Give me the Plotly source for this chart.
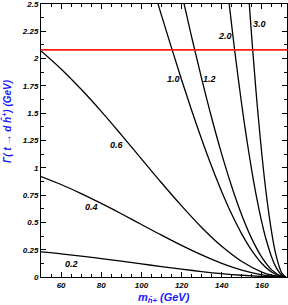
import plotly.graph_objects as go

# m_h+ (GeV) sample points and width values, per coupling
m_02 = [50, 60, 70, 80, 90, 100, 110, 120, 130, 140, 150, 160, 165, 170, 172]
g_02 = [0.230, 0.212, 0.191, 0.169, 0.145, 0.120, 0.096, 0.072, 0.050, 0.031, 0.016, 0.005, 0.002, 0.000, 0.0]
m_04 = [50, 60, 70, 80, 90, 100, 110, 120, 130, 140, 150, 160, 165, 170, 172]
g_04 = [0.920, 0.847, 0.764, 0.674, 0.579, 0.481, 0.383, 0.289, 0.202, 0.125, 0.063, 0.020, 0.007, 0.001, 0.0]
m_06 = [50, 60, 70, 80, 90, 100, 110, 120, 130, 140, 150, 160, 165, 170, 172]
g_06 = [2.070, 1.905, 1.719, 1.517, 1.302, 1.082, 0.863, 0.651, 0.454, 0.281, 0.142, 0.045, 0.016, 0.001, 0.0]
m_10 = [90, 100, 105, 110, 115, 120, 125, 130, 135, 140, 145, 150, 155, 160, 165, 170, 172]
g_10 = [3.618, 3.006, 2.700, 2.396, 2.098, 1.807, 1.527, 1.261, 1.011, 0.781, 0.574, 0.393, 0.242, 0.124, 0.044, 0.004, 0.0]
m_12 = [105, 110, 115, 120, 125, 130, 135, 140, 145, 150, 155, 160, 165, 170, 172]
g_12 = [3.888, 3.450, 3.021, 2.602, 2.199, 1.816, 1.456, 1.125, 0.827, 0.566, 0.349, 0.179, 0.063, 0.005, 0.0]
m_20 = [130, 135, 140, 142, 145, 147, 150, 152, 155, 157, 160, 162, 165, 167, 170, 172]
g_20 = [5.044, 4.046, 3.125, 2.782, 2.297, 1.994, 1.573, 1.317, 0.969, 0.764, 0.498, 0.350, 0.175, 0.090, 0.015, 0.0]
m_30 = [145, 150, 152, 153, 155, 157, 158, 160, 162, 165, 167, 170, 172]
g_30 = [5.169, 3.540, 2.962, 2.690, 2.180, 1.718, 1.506, 1.120, 0.787, 0.393, 0.203, 0.033, 0.0]

series = [(m_02, g_02), (m_04, g_04), (m_06, g_06), (m_10, g_10),
          (m_12, g_12), (m_20, g_20), (m_30, g_30)]

# curve labels and their positions
label_text = ["0.2", "0.4", "0.6", "1.0", "1.2", "2.0", "3.0"]
label_x = [65, 75, 88, 116, 134, 141.5, 159]
label_y = [0.12, 0.64, 1.21, 1.81, 1.81, 2.21, 2.32]

top_width = 2.08
x_range = [50, 172.5]
y_range = [0, 2.5]

font_fam = "Liberation Sans, Arial, sans-serif"
title_font = dict(family=font_fam, size=11, color="#1a1aff", weight="bold", style="italic")
ytitle_font = dict(family=font_fam, size=10, color="#1a1aff", weight="bold", style="italic")

fig = go.Figure()
for mx, gy in series:
    fig.add_trace(go.Scatter(x=mx, y=gy, mode="lines", line=dict(color="black", width=1.3, shape="spline"),
                             hoverinfo="skip", showlegend=False))
fig.add_trace(go.Scatter(x=x_range, y=[top_width, top_width], mode="lines",
                         line=dict(color="#ff1a1a", width=1.6), showlegend=False))

for t, x, y in zip(label_text, label_x, label_y):
    fig.add_annotation(x=x, y=y, text=t, showarrow=False,
                       font=dict(family=font_fam, size=9, color="black", weight="bold", style="italic"))

# axis titles
fig.add_annotation(xref="paper", yref="paper", x=0.5, y=0, yshift=-12, yanchor="top",
                   text="m<sub>ĥ+</sub> (GeV)", showarrow=False, font=title_font)
fig.add_annotation(xref="paper", yref="paper", x=0, xshift=-26, xanchor="right", y=0.57,
                   text="Γ( t → d ĥ<sup>+</sup>) (GeV)", textangle=-90, showarrow=False, font=ytitle_font)

axis_common = dict(showgrid=False, zeroline=False, showline=True, linecolor="black", linewidth=1,
                   mirror="allticks", ticks="inside", ticklen=5, tickcolor="black", automargin=False,
                   ticklabeloverflow="allow",
                   tickfont=dict(family=font_fam, size=8, color="black", weight="bold", style="italic"))

fig.update_xaxes(range=x_range, dtick=20, tick0=0,
                 minor=dict(ticks="inside", dtick=5, ticklen=3, tickcolor="black"),
                 **axis_common)
fig.update_yaxes(range=y_range, dtick=0.25, tick0=0,
                 minor=dict(ticks="inside", dtick=0.125, ticklen=3, tickcolor="black"),
                 **axis_common)

fig.update_layout(width=288, height=305, margin=dict(l=41, r=1, t=4, b=28),
                  paper_bgcolor="white", plot_bgcolor="white")

fig.write_html("out.html", config={"displayModeBar": False},
               post_script="document.body.style.margin='0';document.body.style.overflow='hidden';")
